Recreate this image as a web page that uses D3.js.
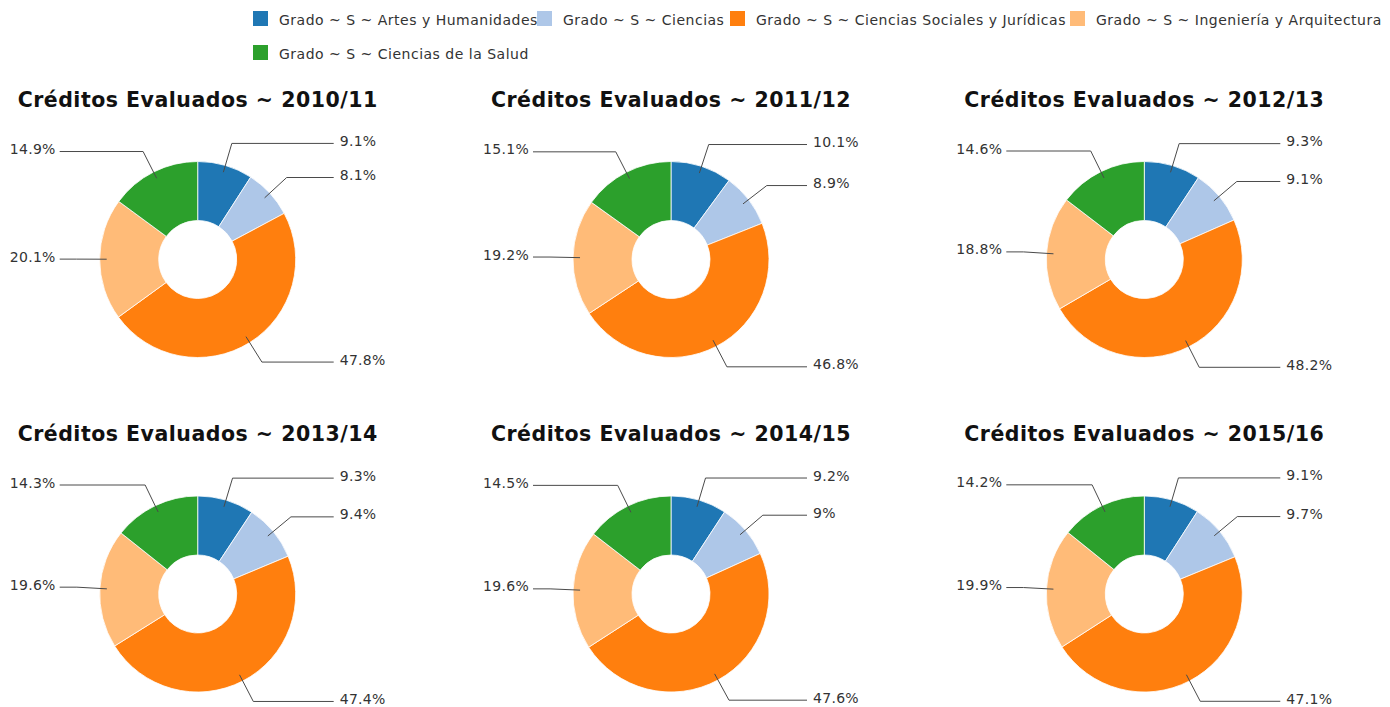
<!DOCTYPE html>
<html>
<head>
<meta charset="utf-8">
<script src="https://cdn.jsdelivr.net/npm/d3@7/dist/d3.min.js"></script>
<style>
  html, body { margin: 0; padding: 0; background: #fff; }
  svg { display: block; }
</style>
</head>
<body>
<svg id="chart" width="1390" height="707"></svg>
<script>
// ---- Data ----
const categories = [
  "Grado ~ S ~ Artes y Humanidades",
  "Grado ~ S ~ Ciencias",
  "Grado ~ S ~ Ciencias Sociales y Jurídicas",
  "Grado ~ S ~ Ingeniería y Arquitectura",
  "Grado ~ S ~ Ciencias de la Salud"
];
const years = ["2010/11", "2011/12", "2012/13", "2013/14", "2014/15", "2015/16"];
const artesHumanidades = [9.1, 10.1, 9.3, 9.3, 9.2, 9.1];
const ciencias = [8.1, 8.9, 9.1, 9.4, 9, 9.7];
const cienciasSociales = [47.8, 46.8, 48.2, 47.4, 47.6, 47.1];
const ingenieria = [20.1, 19.2, 18.8, 19.6, 19.6, 19.9];
const cienciasSalud = [14.9, 15.1, 14.6, 14.3, 14.5, 14.2];
const titlePrefix = "Créditos Evaluados ~ ";

const series = [artesHumanidades, ciencias, cienciasSociales, ingenieria, cienciasSalud];
const colors = ["#1f77b4", "#aec7e8", "#ff7f0e", "#ffbb78", "#2ca02c"];

// ---- Layout ----
const svg = d3.select("#chart");
const color = d3.scaleOrdinal().domain(categories).range(colors);
const colX = d3.scalePoint().domain([0, 1, 2]).range([197.7, 1144.3]);
const rowY = d3.scalePoint().domain([0, 1]).range([259.5, 594]);

const R = 98, r0 = 39;
const arc = d3.arc().innerRadius(r0).outerRadius(R);
const pie = d3.pie().sort(null).value(d => d.value);

// ---- Legend ----
const legendX = [253, 537, 730, 1070, 253];
const legendY = [11, 11, 11, 11, 45];
const legend = svg.append("g");
categories.forEach((c, i) => {
  const g = legend.append("g").attr("transform", `translate(${legendX[i]},${legendY[i]})`);
  g.append("rect").attr("width", 15).attr("height", 15).attr("fill", color(c));
  g.append("text")
    .attr("x", 26).attr("y", 13.5)
    .attr("font-family", "DejaVu Sans, sans-serif")
    .attr("font-size", 14)
    .attr("letter-spacing", 0.5)
    .attr("fill", "#333")
    .text(c);
});

// ---- Pies ----
years.forEach((yr, k) => {
  const cx = colX(k % 3), cy = rowY(Math.floor(k / 3));
  const data = categories.map((c, i) => ({ cat: c, value: series[i][k] }));
  const g = svg.append("g").attr("transform", `translate(${cx},${cy})`);

  g.append("text")
    .attr("x", 0).attr("y", -153)
    .attr("text-anchor", "middle")
    .attr("font-family", "DejaVu Sans, sans-serif")
    .attr("font-weight", "bold")
    .attr("font-size", 20.5)
    .attr("letter-spacing", 0.5)
    .attr("fill", "#111")
    .text(titlePrefix + yr);

  const arcs = pie(data);
  g.selectAll("path.slice").data(arcs).join("path")
    .attr("class", "slice")
    .attr("d", arc)
    .attr("fill", d => color(d.data.cat))
    .attr("stroke", "#fff")
    .attr("stroke-width", 0.8);

  arcs.forEach(d => {
    const a = (d.startAngle + d.endAngle) / 2;
    const s = Math.sin(a), c = -Math.cos(a);
    const side = s >= 0 ? 1 : -1;
    const p1 = [s * 91, c * 91];
    const p2 = [s * 121, c * 121];
    const p3 = [side > 0 ? 136 : -138, p2[1]];
    g.append("polyline")
      .attr("points", [p1, p2, p3].map(p => p.join(",")).join(" "))
      .attr("fill", "none")
      .attr("stroke", "#4a4a4a")
      .attr("stroke-width", 1);
    g.append("text")
      .attr("x", side > 0 ? 142 : -142)
      .attr("y", p2[1] + 2.5)
      .attr("text-anchor", side > 0 ? "start" : "end")
      .attr("font-family", "DejaVu Sans, sans-serif")
      .attr("font-size", 14)
      .attr("letter-spacing", 0.3)
      .attr("fill", "#333")
      .text(d.data.value + "%");
  });
});
</script>
</body>
</html>
